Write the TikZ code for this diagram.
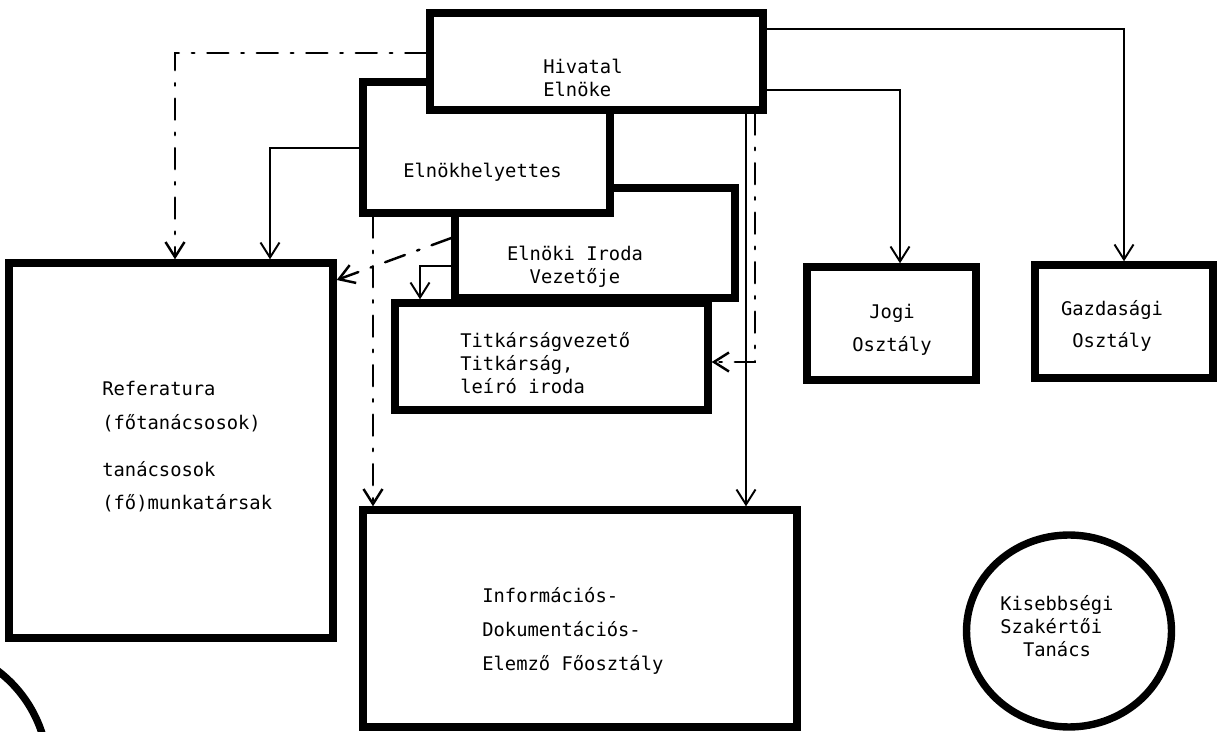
\documentclass[tikz,border=0pt]{standalone}
\usepackage{fontspec}
\newfontfamily\dotfont{DejaVu Sans Mono}
\usetikzlibrary{arrows.meta, positioning, shapes.geometric, fit}

\begin{document}
\begin{tikzpicture}[
    x=0.02cm, y=-0.02cm,
    font=\dotfont\fontsize{10.7}{13}\selectfont,
    unit/.style={draw, line width=4.2pt, fill=white, inner sep=0pt},
    council/.style={draw, ellipse, line width=4.2pt, inner sep=0pt},
    caption/.style={inner sep=0pt, align=left},
    link/.style={-{Straight Barb[length=3mm, width=3.8mm]}, line width=1.1pt},
    dashdot link/.style={link, line cap=round, line width=1.4pt,
        dash pattern=on 0.42cm off 0.26cm on 0.05cm off 0.26cm}
]
\useasboundingbox (0,0) rectangle (1217,732);
\clip (0,0) rectangle (1217,732);
\fill[white] (0,0) rectangle (1217,732);

% boxes, back to front
\node[unit, fit={(9,263) (333,638)}] (ref) {};
\node[unit, fit={(363,510) (797,727)}] (inf) {};
\node[unit, fit={(807,267) (976,380)}] (jog) {};
\node[unit, fit={(1035,265) (1213,378)}] (gaz) {};
\node[council, minimum width=4.1cm, minimum height=3.84cm] (kis) at (1069,631) {};
\node[unit, fit={(455,188) (735,298)}] (eir) {};
\node[unit, fit={(395,303) (708,410)}] (tit) {};
\node[unit, fit={(363,82) (610,213)}] (elh) {};
\node[unit, fit={(430,13) (763,110)}] (hiv) {};
\draw[line width=4.2pt] (-79,772) circle [radius=2.54cm];

% texts
\node[caption, anchor=north west] (hivT) at (543,59) {Hivatal\\Elnöke};
\node[caption, anchor=north west] (elhT) at (403,163) {Elnökhelyettes};
\node[caption, align=center, anchor=north] (eirT) at (575,246) {Elnöki Iroda\\Vezetője};
\node[caption, anchor=north west] (titT) at (460,332) {Titkárságvezető\\Titkárság,\\leíró iroda};
\node[caption, anchor=north west] (refT) at (102,381)
    {Referatura\\[6pt](főtanácsosok)\\[14pt]tanácsosok\\[6pt](fő)munkatársak};
\node[caption, anchor=north west] (infT) at (482,587)
    {Információs-\\[6.3pt]Dokumentációs-\\[6.3pt]Elemző Főosztály};
\node[caption, align=center, anchor=north] (jogT) at (892,304) {Jogi\\[5.5pt]Osztály};
\node[caption, align=center, anchor=north] (gazT) at (1112,300) {Gazdasági\\[5.5pt]Osztály};
\node[caption, anchor=north west] (kisT) at (1000,595) {Kisebbségi\\Szakértői\\~~Tanács};

% connectors
\draw[dashdot link] (hiv.west |- 0,53) -| (ref.north -| 175,0);
\draw[link] (elh.west |- 0,148) -| (ref.north -| 270,0);
\draw[dashdot link] (eir.west |- 0,238) -- (ref.east |- 0,280);
\draw[link] (eir.west |- 0,266) -| (tit.north -| 420,0);
\draw[dashdot link] (elh.south -| 373,0) -- (inf.north -| 373,0);
\draw[link] (hiv.south -| 746,0) -- (inf.north -| 746,0);
\draw[dashdot link] (hiv.south -| 755,0) |- (tit.east |- 0,362);
\draw[link] (hiv.east |- 0,29) -| (gaz.north);
\draw[link] (hiv.east |- 0,90) -| (jog.north -| 900,0);
\end{tikzpicture}
\end{document}
